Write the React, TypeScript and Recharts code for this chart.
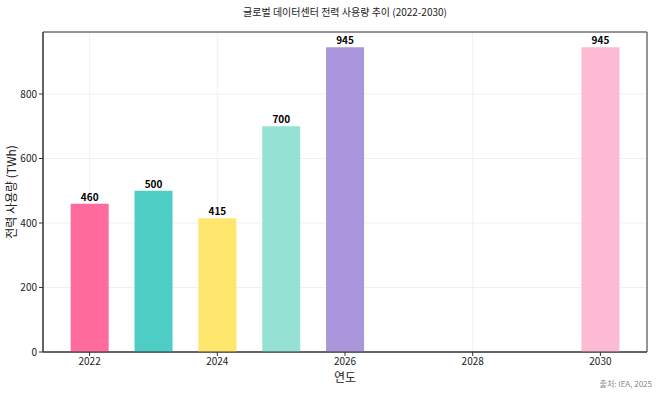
import { BarChart, Bar, XAxis, YAxis, CartesianGrid, Cell, LabelList, ReferenceArea } from "recharts";

const years = [2022, 2023, 2024, 2025, 2026, 2030];
const usage = [460, 500, 415, 700, 945, 945];
const barColors = ["#FF6B9D", "#4ECDC4", "#FFE66D", "#95E1D3", "#AA96DA", "#FCBAD3"];
const xTicks = [2022, 2024, 2026, 2028, 2030];
const yTicks = [0, 200, 400, 600, 800];

const data = years.map((year, i) => ({ year, value: usage[i] }));

const xDomain = [2021.27, 2030.73];
const yDomain = [0, 992.25];

const font = "'Noto Sans CJK KR', 'Noto Sans', sans-serif";
const tickStyle = { fontSize: 10, fill: "#222", fontFamily: font };

export default function App() {
  return (
    <div style={{ position: "absolute", left: 0, top: 0, width: 658, height: 395, background: "#fff", fontFamily: font }}>
      <BarChart width={658} height={395} data={data} margin={{ top: 32, right: 11, left: 0, bottom: 0 }}>
        <CartesianGrid stroke="#f0f0f0" />
        <XAxis
          dataKey="year"
          type="number"
          domain={xDomain}
          ticks={xTicks}
          allowDataOverflow
          height={43}
          tick={tickStyle}
          tickSize={4}
          tickLine={{ stroke: "#333" }}
          axisLine={{ stroke: "#333" }}
        />
        <YAxis
          domain={yDomain}
          ticks={yTicks}
          allowDataOverflow
          width={43}
          tick={tickStyle}
          tickSize={4}
          tickLine={{ stroke: "#333" }}
          axisLine={{ stroke: "#333" }}
        />
        <ReferenceArea x1={xDomain[0]} x2={xDomain[1]} y1={yDomain[0]} y2={yDomain[1]} fill="none" stroke="#333" strokeWidth={1} ifOverflow="visible" />
        <Bar dataKey="value" barSize={38} isAnimationActive={false}>
          {data.map((_, i) => (
            <Cell key={i} fill={barColors[i]} />
          ))}
          <LabelList dataKey="value" position="top" offset={3} style={{ fontSize: 10, fontWeight: 700, fill: "#000", fontFamily: font }} />
        </Bar>
        <text x={345} y={16} textAnchor="middle" fontSize={10} fill="#222" fontFamily={font}>
          글로벌 데이터센터 전력 사용량 추이 (2022-2030)
        </text>
        <text x={13} y={192} textAnchor="middle" dominantBaseline="middle" fontSize={12} fill="#222" fontFamily={font} transform="rotate(-90 13 192)">
          전력 사용량 (TWh)
        </text>
        <text x={345} y={382} textAnchor="middle" fontSize={12} fill="#222" fontFamily={font}>
          연도
        </text>
        <text x={652} y={387} textAnchor="end" fontSize={8} fill="#888" fontFamily={font}>
          출처: IEA, 2025
        </text>
      </BarChart>
    </div>
  );
}
